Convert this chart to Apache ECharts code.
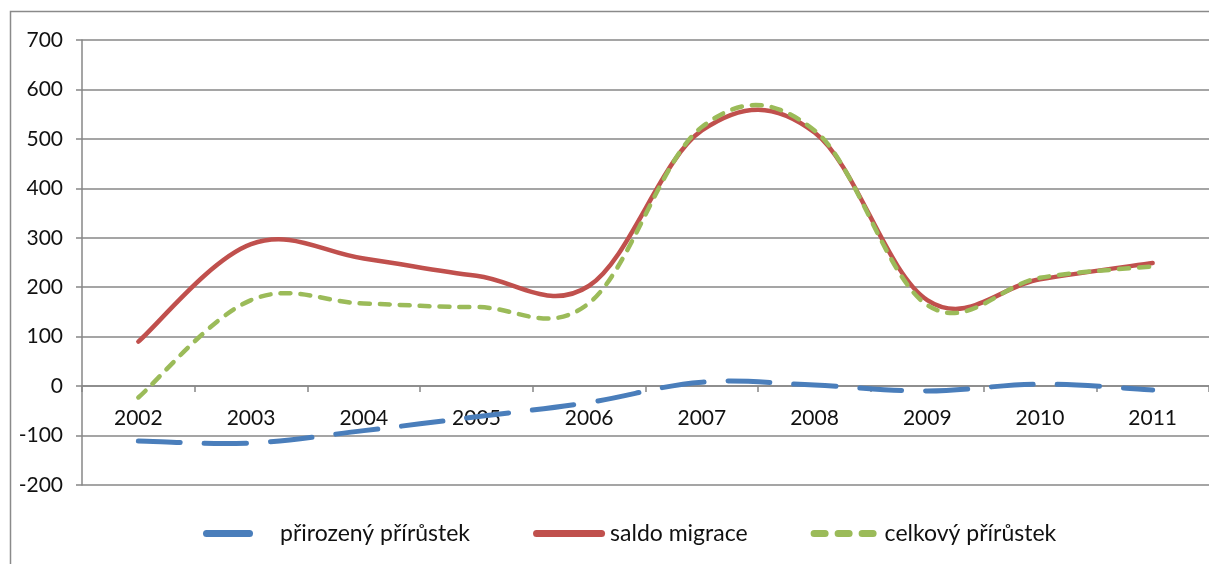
<!DOCTYPE html>
<html>
<head>
<meta charset="utf-8">
<script src="https://cdn.jsdelivr.net/npm/echarts@6/dist/echarts.min.js"></script>
<style>
html,body{margin:0;padding:0;background:#fff;}
#chart{width:1209px;height:564px;}
</style>
</head>
<body>
<div id="chart"></div>
<script>
const years = ['2002','2003','2004','2005','2006','2007','2008','2009','2010','2011'];
const prirozenyPrirustek = [-111, -115, -90, -62, -33, 8, 2, -10, 4, -8];
const saldoMigrace = [90, 287, 258, 223, 203, 517, 513, 174, 216, 249];
const celkovyPrirustek = [-23, 174, 167, 160, 168, 524, 517, 164, 219, 242];
const yTicks = {min: -200, max: 700, interval: 100};

const names = ['přirozený přírůstek', 'saldo migrace', 'celkový přírůstek'];
const colors = ['#4A7EBB', '#C0504D', '#9BBB59'];
const FONT = 'Lato';
const K = 0.18;
const GRID = {left: 82, right: -5, top: 40, bottom: 79};
const PLOT_H = 564 - GRID.top - GRID.bottom;
const ZERO_OFFSET = -PLOT_H * (0 - yTicks.min) / (yTicks.max - yTicks.min);

function splinePath(api, vals) {
  const pts = vals.map((v, i) => api.coord([i, v]));
  let d = 'M' + pts[0][0] + ',' + pts[0][1];
  for (let i = 0; i < pts.length - 1; i++) {
    const p0 = pts[i - 1] || pts[i], p1 = pts[i], p2 = pts[i + 1], p3 = pts[i + 2] || pts[i + 1];
    const c1x = p1[0] + (p2[0] - p0[0]) * K, c1y = p1[1] + (p2[1] - p0[1]) * K;
    const c2x = p2[0] - (p3[0] - p1[0]) * K, c2y = p2[1] - (p3[1] - p1[1]) * K;
    d += ' C' + c1x + ',' + c1y + ' ' + c2x + ',' + c2y + ' ' + p2[0] + ',' + p2[1];
  }
  return d;
}

function makeSeries(idx, vals, width, dash) {
  return {
    name: names[idx],
    type: 'custom',
    coordinateSystem: 'cartesian2d',
    itemStyle: {color: colors[idx]},
    encode: {x: 0, y: 1},
    data: vals.map((v, i) => [i, v]),
    z: 3 + idx,
    silent: true,
    renderItem: function (params, api) {
      if (params.dataIndex !== 0) return null;
      return {
        type: 'path',
        shape: {pathData: splinePath(api, vals)},
        style: {fill: 'none', stroke: colors[idx], lineWidth: width, lineDash: dash, lineCap: 'round', lineJoin: 'round'}
      };
    }
  };
}

function bar(x0, x1, h) {
  const r = h / 2;
  return 'M' + (x0 + r) + ',0H' + (x1 - r) + 'A' + r + ',' + r + ' 0 0 1 ' + (x1 - r) + ',' + h +
         'H' + (x0 + r) + 'A' + r + ',' + r + ' 0 0 1 ' + (x0 + r) + ',0Z';
}

const chart = echarts.init(document.getElementById('chart'), null, {renderer: 'canvas'});
chart.setOption({
  animation: false,
  backgroundColor: '#fff',
  textStyle: {fontFamily: FONT},
  graphic: [{
    type: 'rect', silent: true, z: 0,
    shape: {x: 10.5, y: 11.5, width: 1300, height: 700},
    style: {fill: 'none', stroke: '#8a8a8a', lineWidth: 1.5}
  }],
  grid: {left: GRID.left, right: GRID.right, top: GRID.top, bottom: GRID.bottom, containLabel: false},
  legend: {
    left: 198, top: 517,
    itemWidth: 72, itemHeight: 7, itemGap: 63,
    data: [
      {name: names[0], icon: 'path://' + bar(0, 50, 7)},
      {name: names[1], icon: 'path://' + bar(0, 72, 7)},
      {name: names[2], icon: 'path://' + bar(0, 18, 7) + ' ' + bar(24, 42, 7) + ' ' + bar(48, 66, 7)}
    ],
    formatter: function (n) {
      if (n === names[0]) return '{a|' + n + '}';
      return '{b|' + n + '}';
    },
    textStyle: {
      fontFamily: FONT, fontSize: 23, color: '#111',
      rich: {
        a: {fontFamily: FONT, fontSize: 23, color: '#111', padding: [0, 0, 0, 11]},
        b: {fontFamily: FONT, fontSize: 23, color: '#111'}
      }
    }
  },
  xAxis: {
    type: 'category',
    data: years,
    boundaryGap: true,
    offset: ZERO_OFFSET,
    axisLine: {onZero: false, lineStyle: {color: '#878787', width: 1.5}},
    axisTick: {show: true, length: 6, inside: false, lineStyle: {color: '#878787', width: 1.5}},
    axisLabel: {fontFamily: FONT, fontSize: 21, color: '#111', margin: 22},
    splitLine: {show: false}
  },
  yAxis: {
    type: 'value',
    min: yTicks.min, max: yTicks.max, interval: yTicks.interval,
    axisLine: {show: true, lineStyle: {color: '#878787', width: 1.5}},
    axisTick: {show: true, length: 6, lineStyle: {color: '#878787', width: 1.5}},
    axisLabel: {fontFamily: FONT, fontSize: 21, color: '#111', margin: 19},
    splitLine: {show: true, lineStyle: {color: '#878787', width: 1.5}}
  },
  series: [
    makeSeries(0, prirozenyPrirustek, 5, [42, 24]),
    makeSeries(1, saldoMigrace, 4.5, []),
    makeSeries(2, celkovyPrirustek, 4.5, [10, 10])
  ]
});
</script>
</body>
</html>
